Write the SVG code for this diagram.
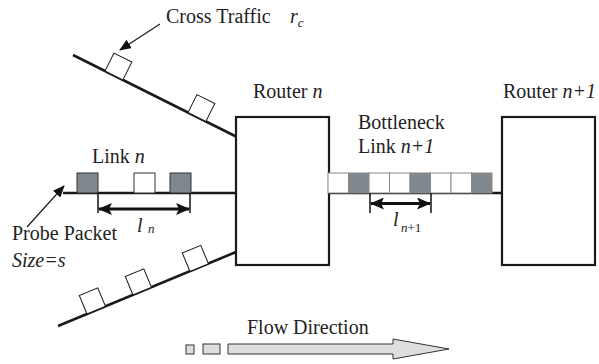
<svg xmlns="http://www.w3.org/2000/svg" width="599" height="364" viewBox="0 0 599 364">
<style>
text{font-family:'Liberation Serif','DejaVu Serif',serif;fill:#222;font-size:20px}
.it{font-style:italic}
.thick{stroke:#1a1a1a;stroke-width:2.6;fill:none}
.box{fill:#fff;stroke:#1a1a1a;stroke-width:2.2}
.ct{fill:#fff;stroke:#1a1a1a;stroke-width:1}
.pg{fill:#80878d;stroke:#333;stroke-width:1}
.pw{fill:#fff;stroke:#333;stroke-width:1}
.qg{fill:#80878d;stroke:#888;stroke-width:1}
.qw{fill:#fff;stroke:#888;stroke-width:1}
.thin{stroke:#1a1a1a;stroke-width:1.2;fill:none}
.dim{stroke:#111;stroke-width:3;fill:none}
.tick{stroke:#111;stroke-width:1.5}
.flow{fill:#dcdedf;stroke:#333;stroke-width:1}
</style>
<defs>
<marker id="ah" markerUnits="userSpaceOnUse" markerWidth="12" markerHeight="10" refX="11" refY="5" orient="auto">
<path d="M0,0 L12,5 L0,10 z" fill="#111"/>
</marker>
<marker id="dh" markerUnits="userSpaceOnUse" markerWidth="14" markerHeight="12" refX="13" refY="6" orient="auto-start-reverse">
<path d="M0,0 L14,6 L0,12 L3,6 z" fill="#111"/>
</marker>
</defs>
<g id="links">
<line class="thick" x1="73" y1="55" x2="236" y2="136.5"/>
<line class="thick" x1="58" y1="326" x2="236" y2="252"/>
<line class="thick" x1="63" y1="193" x2="236" y2="193"/>
<line class="thick" x1="329" y1="193" x2="502" y2="193"/>
</g>
<g id="router-n">
<rect class="box" x="236" y="117" width="93" height="148"/>
<text x="253" y="98">Router <tspan class="it">n</tspan></text>
</g>
<g id="router-n1">
<rect class="box" x="502" y="117" width="93" height="148"/>
<text x="503" y="98">Router <tspan class="it">n+1</tspan></text>
</g>
<g id="cross-traffic-upper">
<rect class="ct" x="0" y="-20" width="20" height="20" transform="translate(105,71) rotate(26.57)"/>
<rect class="ct" x="0" y="-20" width="20" height="20" transform="translate(188,112.5) rotate(26.57)"/>
</g>
<g id="cross-traffic-lower">
<rect class="ct" x="0" y="-20" width="20" height="20" transform="translate(87,314) rotate(-22.6)"/>
<rect class="ct" x="0" y="-20" width="20" height="20" transform="translate(133,295) rotate(-22.6)"/>
<rect class="ct" x="0" y="-20" width="20" height="20" transform="translate(190,271.5) rotate(-22.6)"/>
</g>
<g id="link-n">
<rect class="pg" x="77" y="173" width="21" height="20"/>
<rect class="pw" x="134" y="173" width="21" height="20"/>
<rect class="pg" x="170" y="173" width="21" height="20"/>
<text x="92" y="163">Link <tspan class="it">n</tspan></text>
</g>
<g id="bottleneck-queue">
<rect class="qw" x="328" y="173" width="20.5" height="20"/>
<rect class="qg" x="348.5" y="173" width="20.5" height="20"/>
<rect class="qw" x="369" y="173" width="20.5" height="20"/>
<rect class="qw" x="389.5" y="173" width="20.5" height="20"/>
<rect class="qg" x="410" y="173" width="20.5" height="20"/>
<rect class="qw" x="430.5" y="173" width="20.5" height="20"/>
<rect class="qw" x="451" y="173" width="20.5" height="20"/>
<rect class="qg" x="471.5" y="173" width="20.5" height="20"/>
<text x="358" y="129">Bottleneck</text>
<text x="358" y="153">Link <tspan class="it">n+1</tspan></text>
</g>
<g id="connectors">
<line class="thin" x1="160" y1="24" x2="120" y2="50" marker-end="url(#ah)"/>
<line class="thin" x1="27" y1="227" x2="64" y2="186" marker-end="url(#ah)"/>
<line class="tick" x1="98" y1="193" x2="98" y2="213"/>
<line class="tick" x1="190" y1="193" x2="190" y2="213"/>
<line class="dim" x1="99" y1="209" x2="189" y2="209" marker-start="url(#dh)" marker-end="url(#dh)"/>
<line class="tick" x1="370" y1="193" x2="370" y2="213"/>
<line class="tick" x1="431" y1="193" x2="431" y2="213"/>
<line class="dim" x1="371" y1="203.5" x2="430" y2="203.5" marker-start="url(#dh)" marker-end="url(#dh)"/>
</g>
<g id="labels">
<text x="166" y="23">Cross Traffic <tspan class="it" x="290">r</tspan><tspan class="it" font-size="13" dy="4">c</tspan></text>
<text x="12" y="240">Probe Packet</text>
<text class="it" x="12" y="267">Size=s</text>
<text class="it" x="137" y="232">l<tspan x="148" y="233" font-size="13">n</tspan></text>
<text x="393" y="226"><tspan class="it">l</tspan><tspan class="it" x="401" y="232" font-size="13">n</tspan><tspan font-size="13">+1</tspan></text>
</g>
<g id="flow-direction">
<rect class="flow" x="186" y="345" width="8" height="9"/>
<rect class="flow" x="203" y="344" width="17" height="10"/>
<path class="flow" d="M228,344 L393,344 L393,339 L449,349 L393,359 L393,354 L228,354 z"/>
<text x="247" y="334">Flow Direction</text>
</g>
</svg>
